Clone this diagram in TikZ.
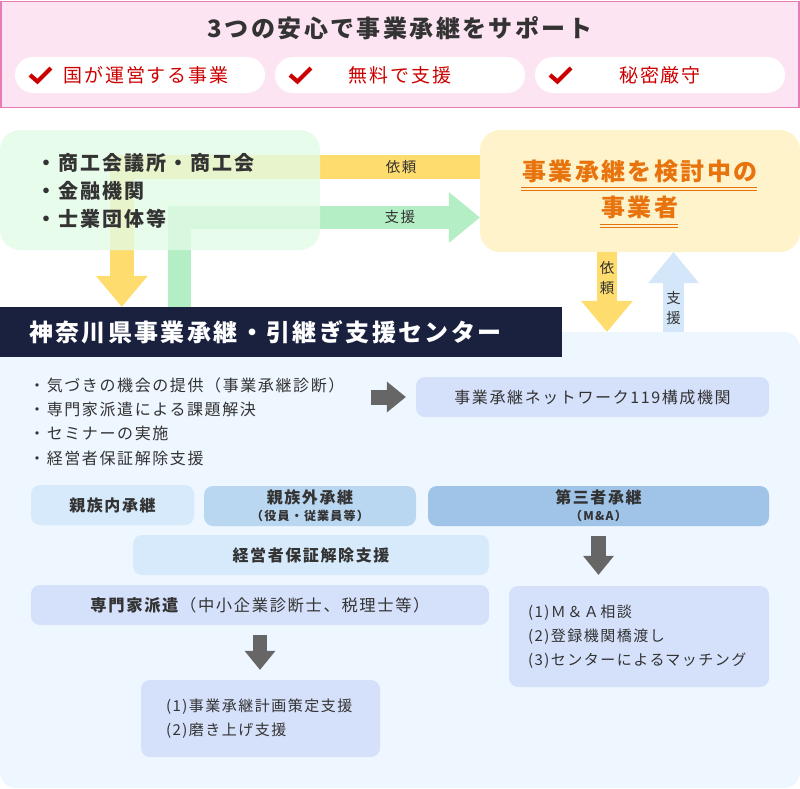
\documentclass[tikz,border=0pt]{standalone}
\usepackage{fontspec}
\setmainfont{Noto Sans CJK JP}[LetterSpace=10]
\usetikzlibrary{arrows.meta}
\definecolor{ink}{HTML}{333333}
\definecolor{pinkbg}{HTML}{FDE4F3}
\definecolor{pinkline}{HTML}{E67BB6}
\definecolor{chkred}{HTML}{CC0000}
\definecolor{grn}{HTML}{E2FBE6}
\definecolor{grnarr}{HTML}{B3EEC4}
\definecolor{yelarr}{HTML}{FFDC6E}
\definecolor{yelbox}{HTML}{FFF3CB}
\definecolor{orng}{HTML}{E8720C}
\definecolor{navy}{HTML}{19213F}
\definecolor{pale}{HTML}{EEF6FF}
\definecolor{bluarr}{HTML}{D4E7FA}
\definecolor{lav}{HTML}{D5E0FB}
\definecolor{sky1}{HTML}{D6EAFB}
\definecolor{sky2}{HTML}{BAD7F2}
\definecolor{sky3}{HTML}{A0C4E8}
\definecolor{garr}{HTML}{666666}

\begin{document}
\begin{tikzpicture}[x=1pt,y=-1pt,
  every node/.style={inner sep=0pt, text=ink},
  panel/.style={rounded corners=20pt},
  pill/.style={fill=white, rounded corners=18pt, minimum width=250pt,
    minimum height=36pt, text=chkred, font=\fontsize{19}{19}\selectfont},
  tickmark/.style={draw=chkred, line width=4.2pt, line join=miter},
  tile/.style={rounded corners=9pt, minimum height=40pt,
    font=\bfseries\fontsize{16}{17}\selectfont},
  note/.style={rounded corners=9pt, fill=lav, align=left,
    font=\fontsize{15}{24}\selectfont},
  tag/.style={font=\fontsize{14.5}{20}\selectfont},
  uline/.style={draw=orng, line width=1pt},
  yarrow/.style={draw=yelarr, line width=24pt, line join=miter,
    -{Triangle[width=52pt,length=31pt,line width=0pt]}},
  garrow/.style={draw=grnarr, line width=23pt, line join=miter,
    -{Triangle[width=51pt,length=31pt,line width=0pt]}},
  barrow/.style={draw=bluarr, line width=21pt,
    -{Triangle[width=51pt,length=31pt,line width=0pt]}},
  darrow/.style={draw=garr, line width=15pt,
    -{Triangle[width=31pt,length=19pt,line width=0pt]}}]
  \useasboundingbox (0,0) rectangle (800,788);

  \node[draw=pinkline, fill=pinkbg, line width=1.2pt, minimum width=798pt,
    minimum height=106pt] (banner) at (400,54.5) {};
  \node[font=\bfseries\fontsize{24}{24}\selectfont] (title) at (400,28)
    {3つの安心で事業承継をサポート};
  \node[pill] (p1) at (140,75) {\hspace*{12pt}国が運営する事業};
  \node[pill] (p2) at (400,75) {無料で支援};
  \node[pill] (p3) at (660,75) {秘密厳守};
  \foreach \p in {p1,p2,p3}
    \draw[tickmark] ([xshift=-110pt,yshift=0pt]\p.center) -- ++(7.5,6.5) -- ++(13.5,-13.5);

  \node[panel, fill=yelbox, minimum width=320pt, minimum height=122pt] (biz) at (640,191) {};
  \node[panel, rounded corners=16pt, fill=pale, minimum width=800pt,
    minimum height=456pt] (hub) at (400,560) {};
  \node[fill=navy, text=white, minimum height=50pt, text width=504pt,
    inner xsep=29pt, align=left, font=\bfseries\fontsize{24}{24}\selectfont]
    (kc) at (281,332) {神奈川県事業承継・引継ぎ支援センター};

  \draw[yarrow] ([yshift=24pt]biz.west) -| ([xshift=122pt]kc.north west)
    node[pos=0.11, tag] {依頼};
  \draw[garrow] ([xshift=179.5pt]kc.north west) |- ([yshift=-26.5pt]biz.west)
    node[pos=0.867, tag] {支援};
  \node[panel, fill=grn, fill opacity=0.78, minimum width=320pt,
    minimum height=120pt] (org) at (160,190) {};
  \node[anchor=west, align=left, font=\bfseries\fontsize{20}{28}\selectfont]
    (orglist) at (36,191) {・商工会議所・商工会\\・金融機関\\・士業団体等};

  \node[text=orng, font=\bfseries\fontsize{24}{24}\selectfont] (biz1) at (640,171)
    {事業承継を検討中の};
  \node[text=orng, font=\bfseries\fontsize{24}{24}\selectfont] (biz2) at (640,207)
    {事業者};
  \foreach \d in {16.5,19} {
    \draw[uline] ([yshift=-\d pt,xshift=-1pt]biz1.west) -- ([yshift=-\d pt,xshift=-1pt]biz1.east);
    \draw[uline] ([yshift=-\d pt-1pt,xshift=-1pt]biz2.west) -- ([yshift=-\d pt-1pt,xshift=-1pt]biz2.east);
  }

  \coordinate (ask) at ([xshift=-33pt]biz.south);
  \coordinate (aid) at ([xshift=33.5pt]biz.south);
  \draw[yarrow, line width=20pt] (ask) -- (ask |- hub.north)
    node[pos=0.33, tag, align=center] {依\\頼};
  \draw[barrow] (aid |- hub.north) -- (aid)
    node[pos=0.3, tag, align=center] {支\\援};

  \node[anchor=west, align=left, font=\fontsize{16}{24.3}\selectfont] (svc)
    at (29,421.5) {・気づきの機会の提供（事業承継診断）\\・専門家派遣による課題解決\\%
    ・セミナーの実施\\・経営者保証解除支援};
  \node[tile, fill=lav, minimum width=353pt, font=\fontsize{16}{16}\selectfont]
    (net) at (592.5,397) {事業承継ネットワーク119構成機関};
  \draw[darrow, line width=15pt] ([xshift=-45pt]net.west) -- ([xshift=-10pt]net.west);

  \node[tile, fill=sky1, minimum width=163pt] (fam) at (112.5,505) {親族内承継};
  \node[tile, fill=sky2, minimum width=212pt, align=center] (emp) at (310,506)
    {親族外承継\\{\fontsize{12}{12}\selectfont （役員・従業員等）}};
  \node[tile, fill=sky3, minimum width=341pt, align=center] (mna) at (598.5,506)
    {第三者承継\\{\fontsize{12}{12}\selectfont （M\&A）}};
  \node[tile, fill=sky1, minimum width=356pt] (grt) at (311,555) {経営者保証解除支援};
  \node[tile, fill=lav, minimum width=458pt, font=\fontsize{16.3}{16}\selectfont]
    (exp) at (260,605) {\textbf{専門家派遣}（中小企業診断士、税理士等）};

  \node[note, minimum height=77pt, text width=189pt, inner xsep=25pt] (plan)
    at (260.5,718.5) {(1)事業承継計画策定支援\\(2)磨き上げ支援};
  \node[note, minimum height=101pt, text width=222pt, inner xsep=19pt] (ma)
    at (639,636.5) {(1)Ｍ＆Ａ相談\\(2)登録機関橋渡し\\(3)センターによるマッチング};

  \draw[darrow, shorten <=10pt, shorten >=11pt] (mna.south) -- (mna.south |- ma.north);
  \draw[darrow, line width=14pt, shorten <=10pt, shorten >=10pt] (exp.south)
    -- (exp.south |- plan.north);
\end{tikzpicture}
\end{document}
